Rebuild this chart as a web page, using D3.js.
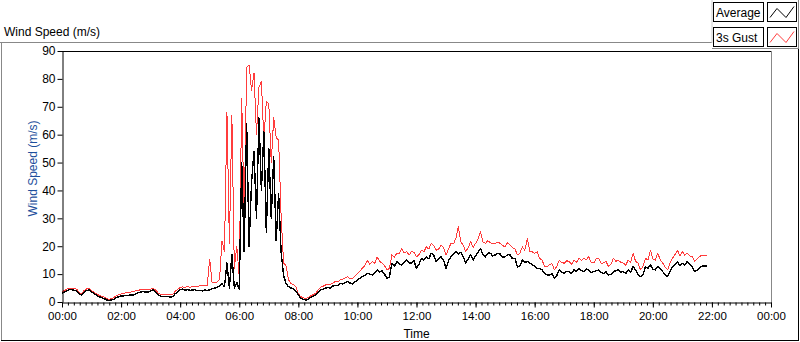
<!DOCTYPE html>
<html>
<head>
<meta charset="utf-8">
<script src="https://cdn.jsdelivr.net/npm/d3@7"></script>
<style>
  body { margin: 0; background: #fff; }
  svg { display: block; font-family: "Liberation Sans", Arial, sans-serif; }
</style>
</head>
<body>
<svg id="chart" width="800" height="342"></svg>
<script>
// wind speed samples, one every 5 minutes from 00:00
const sampleMinutes = 5;
const avgSpeed = [
  3.1,3.5,4.0,4.5,4.4,4.2,4.0,2.9,2.5,3.6,4.1,4.3,
  3.6,3.1,2.4,1.9,1.6,1.3,0.8,0.5,0.7,1.0,1.5,1.9,
  2.2,2.2,2.3,2.3,2.6,2.5,3.0,3.4,3.6,3.7,3.5,3.6,
  4.0,4.3,3.6,2.5,2.1,1.9,2.0,1.9,1.8,1.9,3.0,3.7,
  4.4,4.6,4.3,4.4,4.2,4.3,4.4,4.1,4.2,4.0,4.3,4.1,
  4.4,4.8,5.0,5.2,5.8,6.5,5.5,14,5.0,17,5.0,7.0,
  4.5,50,18,64,20,43,54,30,66,40,61,25,
  55,30,52,22,39,18,9.5,6.7,5.5,5.0,4.8,4.0,
  2.5,1.3,0.9,0.7,1.0,1.7,2.0,2.5,3.4,4.3,4.6,5.0,
  5.2,5.0,5.7,6.0,5.8,6.7,6.5,7.0,7.3,6.8,6.5,7.2,
  7.9,8.5,9.1,9.5,10.3,10.0,9.7,10.5,11.5,10.8,11.2,10.0,
  8.5,9.0,13.9,12.8,14.5,13.6,13.3,14.2,15.0,14.0,13.9,14.8,
  12.0,13.5,15.7,15.0,16.2,15.5,17.5,16.8,14.5,15.3,16.2,15.0,
  12.0,14.8,16.2,17.0,18.0,17.2,17.8,16.2,13.9,15.5,16.9,15.0,
  16.5,17.8,19.2,17.0,16.2,17.5,17.5,16.5,16.9,17.5,17.2,16.0,
  16.2,17.0,16.9,15.5,15.7,12.6,13.0,15.0,14.2,14.5,14.0,13.3,
  12.8,12.0,12.0,11.5,10.3,9.7,9.7,10.2,8.5,9.5,11.5,10.8,
  10.3,11.0,10.9,10.2,11.5,11.0,12.1,11.3,10.9,11.8,11.5,10.6,
  10.9,11.2,11.5,10.6,10.3,10.8,9.7,10.0,10.9,11.2,11.5,10.7,
  10.9,10.2,11.5,10.8,12.7,11.5,9.7,9.1,9.8,12.7,12.0,13.3,
  11.8,11.5,12.7,11.8,10.9,9.8,9.1,10.9,12.7,13.5,14.5,13.0,
  13.9,13.2,14.5,13.5,12.7,10.9,11.5,12.1,12.9,12.9,12.9
];
const gustSpeed = [
  3.7,4.1,4.6,5.0,5.0,4.8,4.6,3.4,3.0,4.2,4.7,4.9,
  4.1,3.6,2.9,2.4,2.1,1.8,1.3,1.0,1.2,1.6,2.2,2.6,
  2.9,3.0,3.3,3.4,3.6,3.7,4.0,4.2,4.4,4.6,4.4,4.6,
  4.6,5.0,4.3,3.3,2.8,2.7,2.8,2.7,2.6,2.8,3.8,4.6,
  5.2,5.4,5.3,5.5,5.3,5.5,5.7,5.6,5.8,5.9,6.1,6.0,
  15.4,6.8,7.0,7.2,8.0,22,18,68,21,67,12,20,
  9,73,30,84,85,76,82,60,77,79,58,72,
  71,50,66,59,58,31,14,13,8,6.7,6.2,5.5,
  3.0,1.9,1.5,1.3,1.6,2.2,2.6,3.1,4.3,5.3,5.6,6.1,
  6.3,6.4,6.7,7.4,7.2,7.9,8.2,8.6,9.1,8.4,8.5,9.2,
  10.3,11.0,12.1,13.0,15.0,13.5,14.5,13.8,16.2,14.6,13.9,13.0,
  11.5,12.0,16.9,16.0,17.5,17.2,19.2,17.6,18.0,16.8,18.2,17.8,
  16.2,17.0,18.6,18.0,19.8,19.0,21.0,20.2,18.6,19.0,20.4,19.5,
  16.8,19.0,21.0,20.8,22.8,27.0,21.5,20.4,18.0,19.5,21.6,19.6,
  21.0,22.5,25.2,21.5,21.0,22.0,21.2,20.8,21.0,21.5,21.0,20.2,
  19.8,21.3,20.5,19.5,19.0,16.9,17.5,19.8,18.5,22.8,18.2,18.0,
  17.5,18.0,15.7,15.0,12.8,12.6,13.3,13.8,11.5,12.8,15.0,14.2,
  13.9,14.8,14.5,13.5,15.0,14.2,15.7,14.8,15.7,15.2,16.3,14.0,
  14.0,15.5,15.7,13.8,14.0,14.5,12.7,13.5,15.7,14.6,15.0,14.2,
  14.0,13.2,15.0,14.2,17.5,14.5,14.0,11.5,12.8,15.7,15.0,18.6,
  15.5,15.0,17.5,15.2,14.0,12.5,11.5,14.0,15.7,17.0,18.6,16.5,
  18.0,16.8,17.5,16.5,16.2,14.5,15.5,16.3,16.8,16.8,16.8
];
const yTicks = [0, 10, 20, 30, 40, 50, 60, 70, 80, 90];
const seriesNames = ['Average', '3s Gust'];
const seriesColors = ['#000000', '#ff3c3c'];

const day0 = new Date(2000, 0, 1, 0, 0);
const day1 = new Date(2000, 0, 2, 0, 0);
const times = avgSpeed.map((d, i) => d3.timeMinute.offset(day0, i * sampleMinutes));

const plot = { left: 62, top: 51, right: 771, bottom: 302 };

const svg = d3.select('#chart');

// outer sunken frame
svg.append('line').attr('x1', 0).attr('x2', 712).attr('y1', 42.5).attr('y2', 42.5).attr('stroke', '#888');
svg.append('line').attr('x1', 1.5).attr('x2', 1.5).attr('y1', 42).attr('y2', 341).attr('stroke', '#888');
svg.append('line').attr('x1', 1).attr('x2', 799).attr('y1', 340.5).attr('y2', 340.5).attr('stroke', '#000');
svg.append('line').attr('x1', 798.5).attr('x2', 798.5).attr('y1', 48).attr('y2', 341).attr('stroke', '#000');

svg.append('text')
    .attr('x', 4)
    .attr('y', 36)
    .attr('font-size', 12)
    .attr('fill', '#000')
    .text('Wind Speed (m/s)');

const x = d3.scaleTime().domain([day0, day1]).range([plot.left, plot.right]);
const y = d3.scaleLinear().domain([0, 90]).range([plot.bottom, plot.top]);

// plot frame
svg.append('rect')
    .attr('x', plot.left)
    .attr('y', plot.top)
    .attr('width', plot.right - plot.left)
    .attr('height', plot.bottom - plot.top)
    .attr('fill', '#fff');
svg.append('line').attr('x1', plot.left).attr('x2', plot.right + 1).attr('y1', plot.top + 0.5).attr('y2', plot.top + 0.5).attr('stroke', '#000');
svg.append('line').attr('x1', plot.right + 0.5).attr('x2', plot.right + 0.5).attr('y1', plot.top).attr('y2', plot.bottom).attr('stroke', '#888');

// aliased traces like the instrument display
const line = d3
    .line()
    .x((d, i) => x(times[i]))
    .y((d) => y(d));

svg.append('clipPath').attr('id', 'clip')
    .append('rect')
    .attr('x', plot.left)
    .attr('y', plot.top)
    .attr('width', plot.right - plot.left)
    .attr('height', plot.bottom - plot.top);

const lines = svg.append('g')
    .attr('clip-path', 'url(#clip)')
    .attr('fill', 'none')
    .attr('stroke-linejoin', 'round')
    .attr('shape-rendering', 'crispEdges');
lines.append('path')
    .attr('d', line(gustSpeed))
    .attr('stroke', seriesColors[1])
    .attr('stroke-width', 1);
lines.append('path')
    .attr('d', line(avgSpeed))
    .attr('stroke', seriesColors[0])
    .attr('stroke-width', 1.4);

// y axis
const yAxis = svg.append('g')
    .attr('transform', `translate(${plot.left + 0.5},0)`)
    .call(d3.axisLeft(y).tickValues(yTicks).tickSize(5).tickSizeOuter(0).tickPadding(2));
yAxis.select('.domain').attr('stroke', '#000');
yAxis.selectAll('text').attr('font-size', 12).attr('fill', '#000').attr('font-family', null);

// x axis, minor ticks every 12 min then majors every 2 h
const xMinor = svg.append('g')
    .attr('transform', `translate(0,${plot.bottom + 0.5})`)
    .call(d3.axisBottom(x).ticks(d3.timeMinute.every(12)).tickSize(3).tickFormat(''));
xMinor.select('.domain').remove();

const xAxis = svg.append('g')
    .attr('transform', `translate(0,${plot.bottom + 0.5})`)
    .call(d3.axisBottom(x)
        .ticks(d3.timeHour.every(2))
        .tickSize(5)
        .tickSizeOuter(0)
        .tickPadding(4)
        .tickFormat(d3.timeFormat('%H:%M')));
xAxis.select('.domain').attr('stroke', '#000');
xAxis.selectAll('text').attr('font-size', 11.5).attr('fill', '#000').attr('font-family', null);

svg.append('text')
    .attr('x', (plot.left + plot.right) / 2)
    .attr('y', 338)
    .attr('text-anchor', 'middle')
    .attr('font-size', 12)
    .attr('fill', '#000')
    .text('Time');

svg.append('text')
    .attr('transform', `translate(37,${(plot.top + plot.bottom) / 2 - 8}) rotate(-90)`)
    .attr('text-anchor', 'middle')
    .attr('font-size', 12)
    .attr('fill', '#1d4f9c')
    .text('Wind Speed (m/s)');

// legend
const legend = svg.append('g');
legend.append('line').attr('x1', 712).attr('x2', 712).attr('y1', 0).attr('y2', 43).attr('stroke', '#ccc');
legend.append('line').attr('x1', 712).attr('x2', 799).attr('y1', 48.5).attr('y2', 48.5).attr('stroke', '#888');
legend.append('line').attr('x1', 798.5).attr('x2', 798.5).attr('y1', 0).attr('y2', 49).attr('stroke', '#888');

const swatchLine = d3.line();
seriesNames.forEach((name, i) => {
    const top = 2.5 + i * 25;
    legend.append('rect')
        .attr('x', 713.5).attr('y', top)
        .attr('width', 50).attr('height', 19)
        .attr('fill', '#fff').attr('stroke', '#000');
    legend.append('text')
        .attr('x', 716).attr('y', top + 14.5)
        .attr('font-size', 12)
        .attr('fill', '#000')
        .text(name);
    legend.append('rect')
        .attr('x', 767.5).attr('y', top)
        .attr('width', 29).attr('height', 19)
        .attr('fill', '#fff').attr('stroke', '#000');
    legend.append('path')
        .attr('d', swatchLine([[770, top + 15], [777, top + 6], [786, top + 15], [794, top + 4]]))
        .attr('fill', 'none')
        .attr('stroke', seriesColors[i]);
});
</script>
</body>
</html>
